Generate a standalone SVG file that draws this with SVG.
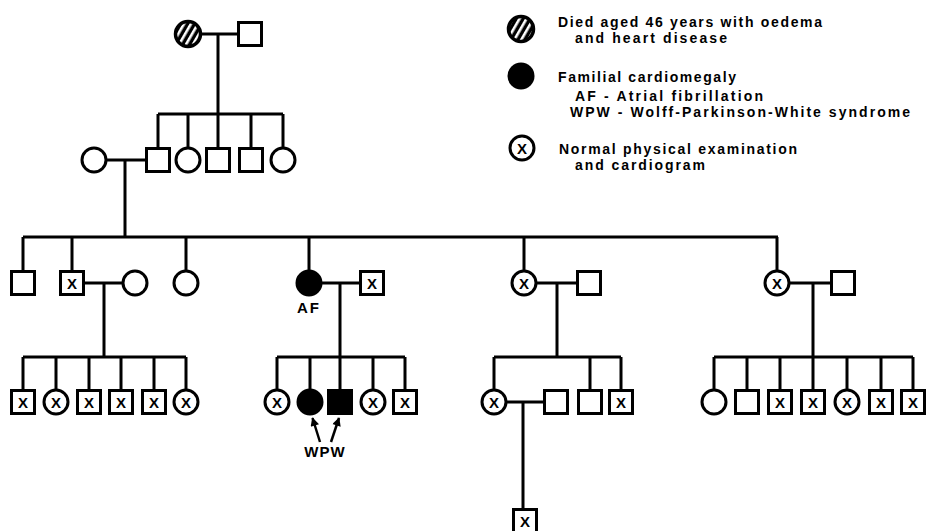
<svg xmlns="http://www.w3.org/2000/svg" width="927" height="531" viewBox="0 0 927 531">
<style>
.ln{stroke:#000;stroke-width:3;fill:none}
.nd{fill:#fff;stroke:#000;stroke-width:3}
.bk{fill:#000;stroke:#000;stroke-width:3}
.x{font-family:"Liberation Sans",Arial,sans-serif;font-weight:bold;font-size:15px;text-anchor:middle;fill:#000}
.lg{font-family:"Liberation Sans",Arial,sans-serif;font-weight:bold;font-size:14px;fill:#000}
.lb{font-family:"Liberation Sans",Arial,sans-serif;font-weight:bold;font-size:15px;text-anchor:middle;fill:#000}
</style>
<defs>
<pattern id="hatch" width="6" height="6" patternUnits="userSpaceOnUse" patternTransform="rotate(30)">
<rect width="6" height="6" fill="#000"/><rect x="2" width="2.6" height="6" fill="#fff"/>
</pattern>
<marker id="ah" viewBox="0 0 10 10" refX="9" refY="5" markerWidth="4" markerHeight="3.5" orient="auto">
<path d="M0,0 L10,5 L0,10 z" fill="#000"/>
</marker>
</defs>
<rect width="927" height="531" fill="#fff"/>
<g id="connectors" class="ln">
<path d="M188,34 H250 M218,34 V114 M158,114 H283 M158,114 V160 M188,114 V160 M218,114 V160 M251,114 V160 M283,114 V160"/>
<path d="M94,160 H158 M125,160 V237 M23,237 H778 M23,237 V283 M72,237 V283 M186,237 V283 M309,237 V283 M524,237 V283 M777,237 V283"/>
<path d="M72,283 H135 M104,283 V357 M309,283 H372 M340,283 V357 M524,283 H589 M557,283 V357 M777,283 H843 M813,283 V357"/>
<path d="M23,357 H186 M23,357 V402 M56,357 V402 M89,357 V402 M121,357 V402 M154,357 V402 M186,357 V402"/>
<path d="M277,357 H405 M277,357 V402 M310,357 V402 M340,357 V402 M373,357 V402 M405,357 V402"/>
<path d="M494,357 H621 M494,357 V402 M590,357 V402 M621,357 V402 M494,402 H556 M523,402 V521"/>
<path d="M714,357 H913 M714,357 V402 M747,357 V402 M780,357 V402 M813,357 V402 M847,357 V402 M881,357 V402 M913,357 V402"/>
<line x1="320" y1="442" x2="312.5" y2="418" stroke-width="2.5" marker-end="url(#ah)"/>
<line x1="331" y1="442" x2="339" y2="418" stroke-width="2.5" marker-end="url(#ah)"/>
</g>
<!-- Generation I -->
<g id="g1-mother"><circle cx="188" cy="34" r="12.5" fill="url(#hatch)" stroke="#000" stroke-width="3.5"/></g>
<g id="g1-father"><rect class="nd" x="238.5" y="22.5" width="23" height="23"/></g>
<!-- Generation II -->
<g id="g2-wife"><circle class="nd" cx="94" cy="160" r="12"/></g>
<g id="g2-1"><rect class="nd" x="146.5" y="148.5" width="23" height="23"/></g>
<g id="g2-2"><circle class="nd" cx="188" cy="160" r="12"/></g>
<g id="g2-3"><rect class="nd" x="206.5" y="148.5" width="23" height="23"/></g>
<g id="g2-4"><rect class="nd" x="239.5" y="148.5" width="23" height="23"/></g>
<g id="g2-5"><circle class="nd" cx="283" cy="160" r="12"/></g>
<!-- Generation III -->
<g id="g3-1"><rect class="nd" x="11.5" y="271.5" width="23" height="23"/></g>
<g id="g3-2"><rect class="nd" x="60.5" y="271.5" width="23" height="23"/><text class="x" x="72" y="288.5">X</text></g>
<g id="g3-2w"><circle class="nd" cx="135" cy="283" r="12"/></g>
<g id="g3-3"><circle class="nd" cx="186" cy="283" r="12"/></g>
<g id="g3-4"><circle class="bk" cx="309" cy="283" r="12"/><text class="lb" x="309" y="313" letter-spacing="2">AF</text></g>
<g id="g3-4h"><rect class="nd" x="360.5" y="271.5" width="23" height="23"/><text class="x" x="372" y="288.5">X</text></g>
<g id="g3-5"><circle class="nd" cx="524" cy="283" r="12"/><text class="x" x="524" y="288.5">X</text></g>
<g id="g3-5h"><rect class="nd" x="577.5" y="271.5" width="23" height="23"/></g>
<g id="g3-6"><circle class="nd" cx="777" cy="283" r="12"/><text class="x" x="777" y="288.5">X</text></g>
<g id="g3-6h"><rect class="nd" x="831.5" y="271.5" width="23" height="23"/></g>
<!-- Generation IV, family 1 -->
<g id="g4-a1"><rect class="nd" x="11.5" y="390.5" width="23" height="23"/><text class="x" x="23" y="407.5">X</text></g>
<g id="g4-a2"><circle class="nd" cx="56" cy="402" r="12"/><text class="x" x="56" y="407.5">X</text></g>
<g id="g4-a3"><rect class="nd" x="77.5" y="390.5" width="23" height="23"/><text class="x" x="89" y="407.5">X</text></g>
<g id="g4-a4"><rect class="nd" x="109.5" y="390.5" width="23" height="23"/><text class="x" x="121" y="407.5">X</text></g>
<g id="g4-a5"><rect class="nd" x="142.5" y="390.5" width="23" height="23"/><text class="x" x="154" y="407.5">X</text></g>
<g id="g4-a6"><circle class="nd" cx="186" cy="402" r="12"/><text class="x" x="186" y="407.5">X</text></g>
<!-- Generation IV, family 2 -->
<g id="g4-b1"><circle class="nd" cx="277" cy="402" r="12"/><text class="x" x="277" y="407.5">X</text></g>
<g id="g4-b2"><circle class="bk" cx="310" cy="402" r="12"/></g>
<g id="g4-b3"><rect class="bk" x="328.5" y="390.5" width="23" height="23"/></g>
<g id="g4-b4"><circle class="nd" cx="373" cy="402" r="12"/><text class="x" x="373" y="407.5">X</text></g>
<g id="g4-b5"><rect class="nd" x="393.5" y="390.5" width="23" height="23"/><text class="x" x="405" y="407.5">X</text></g>
<g id="wpw-label"><text class="lb" x="325" y="457" letter-spacing="1">WPW</text></g>
<!-- Generation IV, family 3 -->
<g id="g4-c1"><circle class="nd" cx="494" cy="402" r="12"/><text class="x" x="494" y="407.5">X</text></g>
<g id="g4-c1h"><rect class="nd" x="544.5" y="390.5" width="23" height="23"/></g>
<g id="g4-c2"><rect class="nd" x="578.5" y="390.5" width="23" height="23"/></g>
<g id="g4-c3"><rect class="nd" x="609.5" y="390.5" width="23" height="23"/><text class="x" x="621" y="407.5">X</text></g>
<!-- Generation V -->
<g id="g5-1"><rect class="nd" x="513.5" y="509.5" width="23" height="23"/><text class="x" x="525" y="526.5">X</text></g>
<!-- Generation IV, family 4 -->
<g id="g4-d1"><circle class="nd" cx="714" cy="402" r="12"/></g>
<g id="g4-d2"><rect class="nd" x="735.5" y="390.5" width="23" height="23"/></g>
<g id="g4-d3"><rect class="nd" x="768.5" y="390.5" width="23" height="23"/><text class="x" x="780" y="407.5">X</text></g>
<g id="g4-d4"><rect class="nd" x="801.5" y="390.5" width="23" height="23"/><text class="x" x="813" y="407.5">X</text></g>
<g id="g4-d5"><circle class="nd" cx="847" cy="402" r="12"/><text class="x" x="847" y="407.5">X</text></g>
<g id="g4-d6"><rect class="nd" x="869.5" y="390.5" width="23" height="23"/><text class="x" x="881" y="407.5">X</text></g>
<g id="g4-d7"><rect class="nd" x="901.5" y="390.5" width="23" height="23"/><text class="x" x="913" y="407.5">X</text></g>
<!-- Legend -->
<g id="legend">
<circle cx="521" cy="29" r="12.5" fill="url(#hatch)" stroke="#000" stroke-width="3.5"/>
<text class="lg" x="558" y="27" textLength="264" lengthAdjust="spacing">Died aged 46 years with oedema</text>
<text class="lg" x="575" y="43" textLength="152" lengthAdjust="spacing">and heart disease</text>
<circle cx="521" cy="76" r="13.5" fill="#000"/>
<text class="lg" x="558" y="82" textLength="178" lengthAdjust="spacing">Familial cardiomegaly</text>
<text class="lg" x="575" y="101" textLength="188" lengthAdjust="spacing">AF - Atrial fibrillation</text>
<text class="lg" x="570" y="117" textLength="340" lengthAdjust="spacing">WPW - Wolff-Parkinson-White syndrome</text>
<circle class="nd" cx="522" cy="148" r="12"/><text class="x" x="522" y="153.5">X</text>
<text class="lg" x="559" y="154" textLength="238" lengthAdjust="spacing">Normal physical examination</text>
<text class="lg" x="575" y="170" textLength="130" lengthAdjust="spacing">and cardiogram</text>
</g>
</svg>
